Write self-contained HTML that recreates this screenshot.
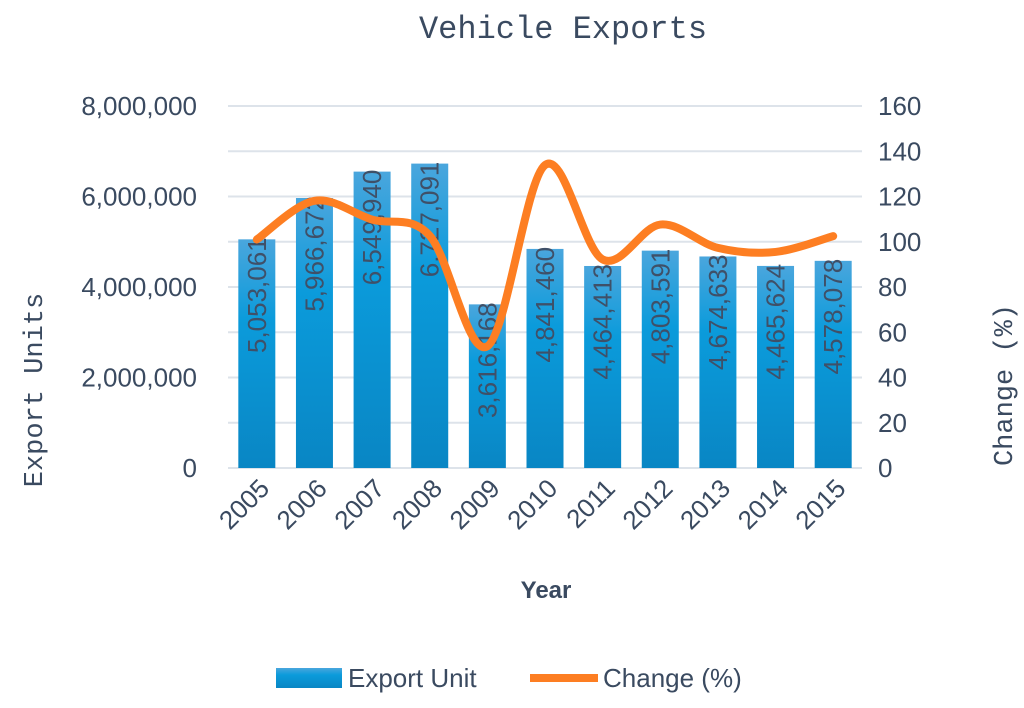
<!DOCTYPE html>
<html><head><meta charset="utf-8">
<style>
html,body{margin:0;padding:0;background:#fff;}
svg{display:block;}
</style></head>
<body>
<svg id="chart" width="1024" height="708" viewBox="0 0 1024 708" xmlns="http://www.w3.org/2000/svg">
<defs>
<linearGradient id="barGrad" x1="0" y1="0" x2="0" y2="1">
<stop offset="0" stop-color="#4aa6dd"/>
<stop offset="0.35" stop-color="#0b9bdb"/>
<stop offset="1" stop-color="#0986c4"/>
</linearGradient>
</defs>
<text x="563" y="38" text-anchor="middle" font-family="'Liberation Mono','Noto Serif CJK SC',monospace" font-size="32" fill="#3a4a60">Vehicle Exports</text>
<g id="grid"></g>
<g id="bars"></g>
<g id="labels"></g>
<g id="line"></g>
<g id="axes"></g>
<text transform="translate(42,390) rotate(-90)" text-anchor="middle" font-family="'Liberation Mono','Noto Serif CJK SC',monospace" font-size="27" fill="#3a4a60">Export Units</text>
<text transform="translate(1012,385) rotate(-90)" text-anchor="middle" font-family="'Liberation Mono','Noto Serif CJK SC',monospace" font-size="27" fill="#3a4a60">Change (%)</text>
<text x="546" y="598" text-anchor="middle" font-family="'Liberation Sans',sans-serif" font-weight="bold" font-size="24" fill="#3a4a60">Year</text>
<g>
<rect x="276" y="668" width="66" height="20" fill="url(#barGrad)"/>
<text x="348" y="687" font-family="'Liberation Sans',sans-serif" font-size="26" fill="#3a4a60">Export Unit</text>
<line x1="530" y1="678" x2="598" y2="678" stroke="#fd7e22" stroke-width="8"/>
<text x="603" y="687" font-family="'Liberation Sans',sans-serif" font-size="26" fill="#3a4a60">Change (%)</text>
</g>
</svg>
<script>
const categories=["2005","2006","2007","2008","2009","2010","2011","2012","2013","2014","2015"];
const exportUnits=[5053061,5966672,6549940,6727091,3616168,4841460,4464413,4803591,4674633,4465624,4578078];
const changePct=[101,118.1,109.8,102.7,53.8,133.9,92.2,107.6,97.3,95.5,102.5];
const leftTicks=[0,2000000,4000000,6000000,8000000];
const rightTicks=[0,20,40,60,80,100,120,140,160];

const NS="http://www.w3.org/2000/svg";
const plotL=228,plotR=862,y0=468,yTop=106;
function yL(v){return y0-(v/8000000)*(y0-yTop);}
function yR(v){return y0-(v/160)*(y0-yTop);}
const step=(plotR-plotL)/categories.length;
function xC(i){return plotL+step*(i+0.5);}
function mk(tag,attrs,parent){const e=document.createElementNS(NS,tag);for(const k in attrs)e.setAttribute(k,attrs[k]);parent.appendChild(e);return e;}
const fam="'Liberation Sans',sans-serif", col="#3a4a60";
const grid=document.getElementById('grid');
for(let v=0;v<=8000000;v+=1000000){
  const g=mk('line',{x1:plotL,x2:plotR,y1:yL(v),y2:yL(v),stroke:'#dde3ea','stroke-width':2},grid);
  
  
}
const axes=document.getElementById('axes');
leftTicks.forEach(v=>{
  const t=mk('text',{x:197,y:yL(v)+9,'text-anchor':'end','font-family':fam,'font-size':26,fill:col},axes);
  t.textContent=v.toLocaleString('en-US');
  
  
});
rightTicks.forEach(v=>{
  const t=mk('text',{x:878,y:yR(v)+9,'text-anchor':'start','font-family':fam,'font-size':26,fill:col},axes);
  t.textContent=v;
  
  
});
const bars=document.getElementById('bars'),labels=document.getElementById('labels');
const bw=37;
categories.forEach((c,i)=>{
  const top=yL(exportUnits[i]);
  const r=mk('rect',{x:xC(i)-bw/2,y:top,width:bw,height:y0-top,fill:'url(#barGrad)'},bars);
  
  
  const t=mk('text',{transform:`translate(${xC(i)+9},${top-2}) rotate(-90)`,'text-anchor':'end','font-family':fam,'font-size':26,fill:'#3f5068'},labels);
  t.textContent=exportUnits[i].toLocaleString('en-US');
  
  
  const xl=mk('text',{transform:`translate(${xC(i)+14},${490}) rotate(-45)`,'text-anchor':'end','font-family':fam,'font-size':26,fill:col},axes);
  xl.textContent=c;
  
  
});
const pts=changePct.map((v,i)=>[xC(i),yR(v)]);
let d=`M${pts[0][0]},${pts[0][1]}`;
for(let i=0;i<pts.length-1;i++){
  const p0=pts[Math.max(0,i-1)],p1=pts[i],p2=pts[i+1],p3=pts[Math.min(pts.length-1,i+2)];
  const t=1/6;
  d+=` C${p1[0]+(p2[0]-p0[0])*t},${p1[1]+(p2[1]-p0[1])*t} ${p2[0]-(p3[0]-p1[0])*t},${p2[1]-(p3[1]-p1[1])*t} ${p2[0]},${p2[1]}`;
}
const ln=mk('path',{d:d,fill:'none',stroke:'#fd7e22','stroke-width':8,'stroke-linecap':'round','stroke-linejoin':'round'},document.getElementById('line'));


</script>
</body></html>
